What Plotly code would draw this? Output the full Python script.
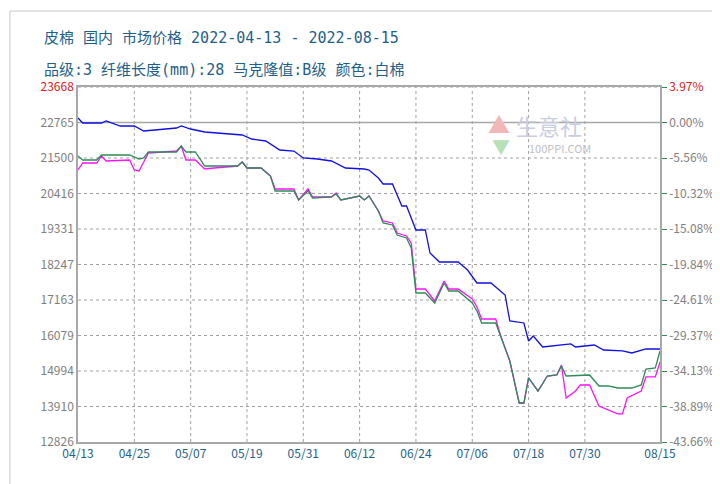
import datetime as dt

import plotly.graph_objects as go

_FONT = "'Noto Sans CJK SC', 'DejaVu Sans', sans-serif"
_TITLE_FONT = "'DejaVu Sans Mono', 'Noto Sans CJK SC', monospace"
START = dt.date(2022, 4, 13)

# day offsets from 2022-04-13 and prices
blue_days = [0, 1, 5, 6, 9, 12, 14, 17, 21, 22, 24, 27, 35, 37, 40, 43, 46, 48, 51, 54,
             57, 61, 62, 64, 65, 67, 69, 70, 72, 74, 75, 77, 81, 83, 85, 88, 91, 92, 95,
             96, 97, 99, 103, 105, 106, 110, 112, 116, 118, 121, 124]
blue_vals = [22721, 22569, 22569, 22630, 22477, 22477, 22324, 22355, 22416, 22477, 22385,
             22294, 22202, 22080, 22019, 21744, 21713, 21500, 21469, 21408, 21194, 21164,
             21133, 20889, 20706, 20706, 20034, 20034, 19301, 19301, 18598, 18324, 18324,
             18079, 17682, 17682, 17316, 16522, 16461, 15911, 16064, 15728, 15789, 15820,
             15728, 15789, 15636, 15606, 15545, 15667, 15667]

green_days = [0, 1, 4, 5, 11, 13, 14, 15, 21, 22, 23, 25, 27, 34, 35, 36, 39, 41, 42, 46,
              47, 49, 50, 54, 55, 56, 60, 61, 62, 64, 65, 67, 68, 70, 71, 72, 74, 76, 78,
              79, 81, 84, 85, 86, 89, 90, 92, 94, 95, 96, 98, 100, 102, 103, 104, 109,
              111, 113, 115, 118, 120, 121, 123, 124]
green_vals = [21561, 21439, 21439, 21591, 21591, 21469, 21500, 21683, 21683, 21866, 21683,
              21683, 21255, 21255, 21377, 21194, 21194, 20950, 20492, 20492, 20217, 20492,
              20278, 20309, 20400, 20217, 20339, 20217, 20339, 19881, 19515, 19454, 19148,
              19057, 18751, 17377, 17377, 17071, 17682, 17438, 17438, 17071, 16827, 16461,
              16461, 16094, 15300, 14017, 14017, 14781, 14384, 14842, 14872, 15147, 14842,
              14872, 14537, 14537, 14475, 14475, 14567, 15056, 15086, 15606]

magenta_days = [0, 1, 4, 5, 6, 11, 12, 13, 15, 21, 22, 23, 25, 27, 29, 34, 35, 36, 39, 41,
                42, 46, 47, 49, 50, 54, 55, 56, 60, 61, 62, 64, 65, 67, 68, 70, 71, 72, 74,
                76, 78, 79, 81, 84, 85, 86, 89, 90, 92, 94, 95, 96, 98, 100, 102, 103, 104,
                106, 107, 109, 111, 113, 115, 116, 117, 120, 121, 123, 124]
magenta_vals = [21133, 21347, 21347, 21561, 21408, 21439, 21133, 21103, 21652, 21713, 21866,
                21439, 21439, 21164, 21194, 21255, 21377, 21194, 21194, 20950, 20553, 20553,
                20217, 20553, 20309, 20309, 20431, 20217, 20339, 20217, 20339, 19881, 19576,
                19515, 19209, 19118, 18904, 17499, 17499, 17132, 17743, 17499, 17499, 17193,
                16949, 16583, 16583, 16094, 15300, 14017, 14017, 14781, 14384, 14842, 14872,
                15178, 14170, 14384, 14567, 14567, 13926, 13804, 13682, 13682, 14170, 14384,
                14812, 14812, 15270]

left_ticks = ["23668", "22765", "21500", "20416", "19331", "18247", "17163", "16079",
              "14994", "13910", "12826"]
right_ticks = ["3.97%", "0.00%", "-5.56%", "-10.32%", "-15.08%", "-19.84%", "-24.61%",
               "-29.37%", "-34.13%", "-38.89%", "-43.66%"]
x_ticks = ["04/13", "04/25", "05/07", "05/19", "05/31", "06/12", "06/24", "07/06",
           "07/18", "07/30", "08/15"]

YMAX, YMIN = 23668, 12826
tick_pos = [YMAX - i * (YMAX - YMIN) / 10 for i in range(11)]


def _dates(days):
    return [START + dt.timedelta(days=d) for d in days]


def _xdate(label):
    m, d = label.split("/")
    return dt.date(2022, int(m), int(d))


GRID = dict(color="#a0a0a0", width=1, dash="3px,3px")

fig = go.Figure()
for days, vals, color in [
    (blue_days, blue_vals, "#1010e0"),
    (magenta_days, magenta_vals, "#ff10ff"),
    (green_days, green_vals, "#2e8b57"),
]:
    fig.add_trace(go.Scatter(x=_dates(days), y=vals, mode="lines",
                             line=dict(color=color, width=1.3), showlegend=False))

# invisible trace for right axis
fig.add_trace(go.Scatter(x=[START], y=[YMAX], yaxis="y2", mode="markers",
                         marker=dict(opacity=0), showlegend=False, hoverinfo="skip"))

# dashed grid drawn at the tick positions
for t in x_ticks[1:-1]:
    fig.add_vline(x=_xdate(t), line=GRID, layer="below")
for p in tick_pos[2:-1]:
    fig.add_hline(y=p, line=GRID, layer="below")
fig.add_hline(y=tick_pos[0], line=GRID, layer="below")
# solid 0% line
fig.add_hline(y=tick_pos[1], line=dict(color="#a8a8a8", width=1.5), layer="below")
# outer frame
fig.add_shape(type="rect", xref="paper", yref="paper", x0=-0.117, x1=1.108,
              y0=-0.135, y1=1.214, line=dict(color="#c8c8c8", width=1), layer="below")

title_col = "#1f5f8b"
fig.add_annotation(x=-0.062, y=1.17, xref="paper", yref="paper", xanchor="left",
                   showarrow=False, text="皮棉 国内 市场价格 2022-04-13 - 2022-08-15",
                   font=dict(size=15, color=title_col, family=_TITLE_FONT))
fig.add_annotation(x=-0.062, y=1.08, xref="paper", yref="paper", xanchor="left",
                   showarrow=False, text="品级:3 纤维长度(mm):28 马克隆值:B级 颜色:白棉",
                   font=dict(size=15, color=title_col, family=_TITLE_FONT))
# watermark
fig.add_annotation(x=0.745, y=0.95, xref="paper", yref="paper", showarrow=False,
                   text="▲", font=dict(size=22, color="#f2b8b8"))
fig.add_annotation(x=0.745, y=0.875, xref="paper", yref="paper", showarrow=False,
                   text="▼", font=dict(size=18, color="#b8e0b8"))
fig.add_annotation(x=0.87, y=0.945, xref="paper", yref="paper", showarrow=False,
                   text="生意社", font=dict(size=22, color="#c9cde0", family=_FONT))
fig.add_annotation(x=0.885, y=0.855, xref="paper", yref="paper", showarrow=False,
                   text="100PPI.COM", font=dict(size=11, color="#c0c0c0", family=_FONT))

left_text = [f"<span style='color:#e02020'>{t}</span>" if i == 0 else t
             for i, t in enumerate(left_ticks)]
right_text = [f"<span style='color:#e02020'>{t}</span>" if i == 0 else t
              for i, t in enumerate(right_ticks)]

fig.update_layout(
    width=720, height=484,
    paper_bgcolor="white", plot_bgcolor="white",
    margin=dict(l=70, r=68, t=79, b=50),
    font=dict(family=_FONT, size=12, color="#707070"),
    xaxis=dict(
        type="date", range=[START, dt.date(2022, 8, 15)],
        tickvals=[_xdate(t) for t in x_ticks], ticktext=x_ticks, showgrid=False,
        showline=True, linecolor="#a8a8a8", mirror=True, linewidth=1.5,
        tickfont=dict(color="#1f5f8b", size=12), ticks="", zeroline=False,
    ),
    yaxis=dict(
        range=[YMIN, YMAX], tickvals=tick_pos, ticktext=left_text, showgrid=False,
        showline=True, linecolor="#a8a8a8", linewidth=1.5, ticks="", zeroline=False,
        tickfont=dict(color="#808080", size=12),
    ),
    yaxis2=dict(
        range=[YMIN, YMAX], overlaying="y", side="right", tickvals=tick_pos,
        ticktext=right_text, showgrid=False, ticks="outside", tickcolor="#2e8b57",
        ticklen=5, showline=True, linecolor="#a8a8a8", linewidth=1.5, zeroline=False,
        tickfont=dict(color="#808080", size=12),
    ),
)

fig.write_html("out.html")
